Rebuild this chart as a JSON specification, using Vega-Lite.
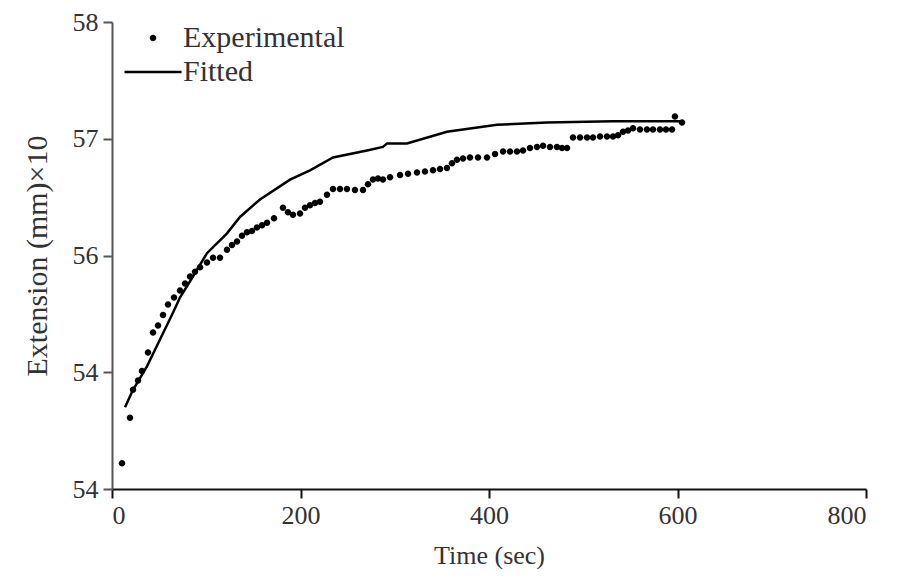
{
  "$schema": "https://vega.github.io/schema/vega-lite/v6.json",
  "width": 754,
  "height": 467,
  "autosize": {"type": "none"},
  "padding": {"left": 112, "top": 22, "right": 37, "bottom": 88},
  "background": "white",
  "config": {
    "view": {"stroke": null},
    "font": "Liberation Serif",
    "axis": {"grid": false, "labelFont": "Liberation Serif", "titleFont": "Liberation Serif", "labelColor": "#333", "titleColor": "#333", "titleFontWeight": "normal", "domainWidth": 2, "tickWidth": 2, "tickSize": 9, "labelFontSize": 26}
  },
  "datasets": {
    "exp": [
      {"t": 10.6, "ext": 54.22}, {"t": 19.1, "ext": 54.61}, {"t": 22.3, "ext": 54.85}, {"t": 27.6, "ext": 54.93},
      {"t": 31.8, "ext": 55.01}, {"t": 38.2, "ext": 55.17}, {"t": 43.5, "ext": 55.34}, {"t": 48.8, "ext": 55.40},
      {"t": 54.1, "ext": 55.49}, {"t": 59.4, "ext": 55.58}, {"t": 65.8, "ext": 55.64}, {"t": 72.1, "ext": 55.70},
      {"t": 77.5, "ext": 55.76}, {"t": 82.8, "ext": 55.82}, {"t": 88.1, "ext": 55.86}, {"t": 93.4, "ext": 55.90},
      {"t": 100.8, "ext": 55.94}, {"t": 107.2, "ext": 55.98}, {"t": 114.6, "ext": 55.98}, {"t": 122.0, "ext": 56.05},
      {"t": 127.3, "ext": 56.09}, {"t": 132.6, "ext": 56.12}, {"t": 137.9, "ext": 56.17}, {"t": 143.2, "ext": 56.20},
      {"t": 148.5, "ext": 56.21}, {"t": 153.8, "ext": 56.24}, {"t": 159.2, "ext": 56.26}, {"t": 164.5, "ext": 56.28},
      {"t": 171.9, "ext": 56.32}, {"t": 181.4, "ext": 56.41}, {"t": 186.7, "ext": 56.37}, {"t": 192.0, "ext": 56.35},
      {"t": 199.5, "ext": 56.36}, {"t": 204.8, "ext": 56.41}, {"t": 210.1, "ext": 56.43}, {"t": 215.4, "ext": 56.45},
      {"t": 220.7, "ext": 56.46}, {"t": 228.1, "ext": 56.52}, {"t": 234.5, "ext": 56.57}, {"t": 241.9, "ext": 56.57},
      {"t": 249.3, "ext": 56.57}, {"t": 257.8, "ext": 56.56}, {"t": 266.3, "ext": 56.56}, {"t": 271.6, "ext": 56.61},
      {"t": 276.9, "ext": 56.65}, {"t": 282.2, "ext": 56.66}, {"t": 287.5, "ext": 56.65}, {"t": 295.0, "ext": 56.67},
      {"t": 305.6, "ext": 56.69}, {"t": 314.1, "ext": 56.70}, {"t": 323.6, "ext": 56.71}, {"t": 332.1, "ext": 56.72},
      {"t": 340.6, "ext": 56.73}, {"t": 348.0, "ext": 56.74}, {"t": 355.4, "ext": 56.75}, {"t": 360.7, "ext": 56.79},
      {"t": 366.0, "ext": 56.82}, {"t": 372.4, "ext": 56.83}, {"t": 379.8, "ext": 56.84}, {"t": 388.3, "ext": 56.84},
      {"t": 397.9, "ext": 56.84}, {"t": 406.4, "ext": 56.87}, {"t": 414.9, "ext": 56.89}, {"t": 422.3, "ext": 56.89},
      {"t": 429.7, "ext": 56.89}, {"t": 436.1, "ext": 56.90}, {"t": 443.5, "ext": 56.92}, {"t": 450.9, "ext": 56.93},
      {"t": 457.3, "ext": 56.94}, {"t": 464.7, "ext": 56.93}, {"t": 472.1, "ext": 56.93}, {"t": 477.5, "ext": 56.92},
      {"t": 482.8, "ext": 56.92}, {"t": 489.1, "ext": 57.01}, {"t": 496.6, "ext": 57.01}, {"t": 504.0, "ext": 57.01},
      {"t": 510.3, "ext": 57.01}, {"t": 517.8, "ext": 57.02}, {"t": 525.2, "ext": 57.02}, {"t": 531.6, "ext": 57.02},
      {"t": 536.9, "ext": 57.03}, {"t": 542.2, "ext": 57.06}, {"t": 547.5, "ext": 57.07}, {"t": 552.8, "ext": 57.09},
      {"t": 560.2, "ext": 57.08}, {"t": 567.6, "ext": 57.08}, {"t": 574.0, "ext": 57.08}, {"t": 581.4, "ext": 57.08},
      {"t": 587.8, "ext": 57.08}, {"t": 594.2, "ext": 57.08}, {"t": 597.3, "ext": 57.19}, {"t": 604.8, "ext": 57.14}
    ],
    "fit": [
      {"t": 13.8, "ext": 54.70}, {"t": 22.3, "ext": 54.85}, {"t": 37.1, "ext": 55.05}, {"t": 50.9, "ext": 55.28},
      {"t": 64.7, "ext": 55.51}, {"t": 72.1, "ext": 55.64}, {"t": 85.9, "ext": 55.82}, {"t": 100.8, "ext": 56.02},
      {"t": 122.0, "ext": 56.19}, {"t": 135.8, "ext": 56.33}, {"t": 157.0, "ext": 56.48}, {"t": 188.9, "ext": 56.65},
      {"t": 210.1, "ext": 56.73}, {"t": 234.5, "ext": 56.84}, {"t": 270.6, "ext": 56.90}, {"t": 287.5, "ext": 56.93},
      {"t": 291.8, "ext": 56.96}, {"t": 313.0, "ext": 56.96}, {"t": 355.4, "ext": 57.06}, {"t": 408.5, "ext": 57.12},
      {"t": 461.5, "ext": 57.14}, {"t": 531.6, "ext": 57.15}, {"t": 602.7, "ext": 57.15}
    ]
  },
  "layer": [
    {
      "data": {"name": "fit"},
      "mark": {"type": "line", "color": "black", "strokeWidth": 2.5},
      "encoding": {
        "x": {"field": "t", "type": "quantitative", "scale": {"domain": [0, 800], "nice": false}},
        "y": {"field": "ext", "type": "quantitative", "scale": {"domain": [54, 58], "nice": false, "zero": false}}
      }
    },
    {
      "data": {"name": "exp"},
      "transform": [{"calculate": "'Experimental'", "as": "series"}],
      "mark": {"type": "point", "filled": true, "color": "black", "opacity": 1, "size": 100},
      "encoding": {
        "x": {"field": "t", "type": "quantitative", "scale": {"domain": [0, 800], "nice": false},
          "axis": {"values": [0, 200, 400, 600, 800], "format": "d", "title": "Time (sec)", "titleFontSize": 26, "domainColor": "#111", "tickColor": "#111", "labelPadding": 4, "titlePadding": 14}},
        "y": {"field": "ext", "type": "quantitative", "scale": {"domain": [54, 58], "nice": false, "zero": false},
          "axis": {"values": [54, 55, 56, 57, 58], "format": "d", "labelExpr": "datum.value == 55 ? '54' : datum.label", "title": "Extension (mm)×10", "titleFontSize": 30, "domainColor": "#555", "tickColor": "#555", "labelPadding": 5, "titlePadding": 20}},
        "shape": {
          "field": "series", "type": "nominal",
          "scale": {"domain": ["Experimental", "Fitted"], "range": ["M-0.65,0A0.65,0.65 0 1,0 0.65,0A0.65,0.65 0 1,0 -0.65,0Z", "M-5.7,-0.25L5.7,-0.25L5.7,0.25L-5.7,0.25Z"]},
          "legend": {"title": null, "orient": "none", "legendX": 26, "legendY": 1, "padding": 0, "symbolSize": 100, "labelFont": "Liberation Serif", "labelFontSize": 30, "labelColor": "#333", "labelOffset": 15, "labelLimit": 400, "rowPadding": 4}
        }
      }
    }
  ]
}
